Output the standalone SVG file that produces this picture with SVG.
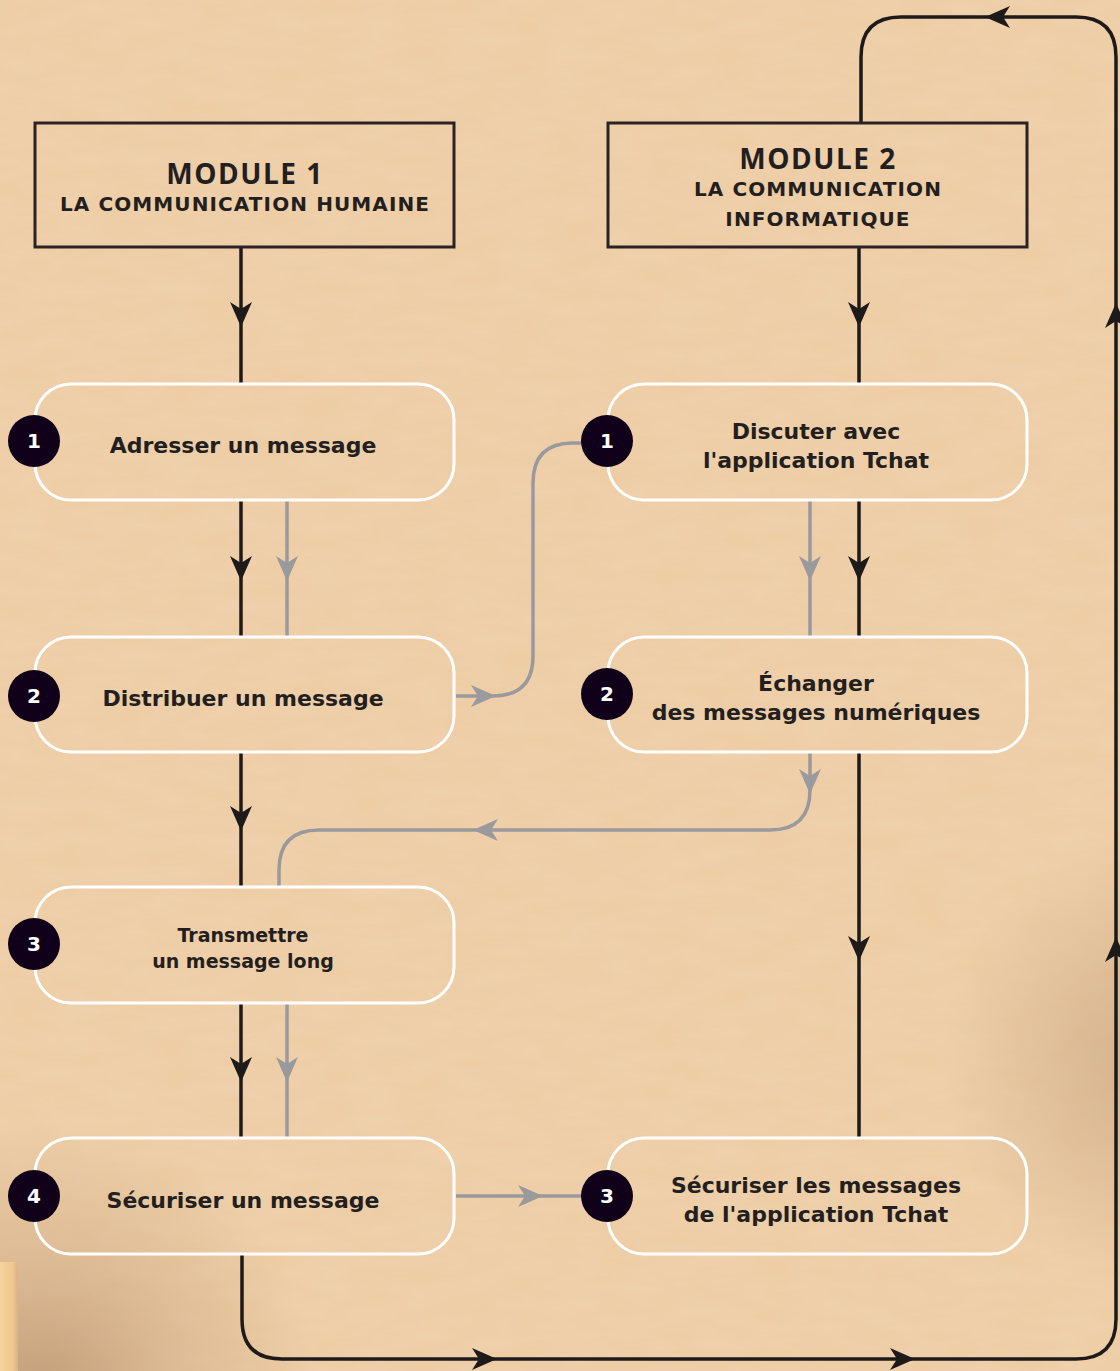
<svg xmlns="http://www.w3.org/2000/svg" width="1120" height="1371" viewBox="0 0 1120 1371">
<defs>
<style>
.bg{fill:#EECDA5}
.mod{fill:none;stroke:#2a2323;stroke-width:3}
.node{fill:none;stroke:#ffffff;stroke-width:3}
.num{fill:#10001a}
.numt{fill:#ffffff;font-family:"DejaVu Sans","Open Sans",sans-serif;font-weight:700;font-size:20px;text-anchor:middle}
.t{fill:#231f20;font-family:"DejaVu Sans","Open Sans",sans-serif;font-weight:700;font-size:22px;text-anchor:middle}
.ts{fill:#231f20;font-family:"DejaVu Sans","Open Sans",sans-serif;font-weight:700;font-size:19px;text-anchor:middle}
.mt{fill:#231f20;font-family:"Open Sans","DejaVu Sans",sans-serif;font-weight:700;font-size:28px;text-anchor:middle;letter-spacing:1.5px}
.ms{fill:#231f20;font-family:"DejaVu Sans","Open Sans",sans-serif;font-weight:700;font-size:20px;text-anchor:middle;letter-spacing:1.1px}
.bl{fill:none;stroke:#1e1a1a;stroke-width:3.5}
.gr{fill:none;stroke:#9a9a9c;stroke-width:3.5}
.ahb{fill:#1e1a1a}
.ahg{fill:#9a9a9c}
</style>
<path id="ah" d="M0,0 L-25,-11 L-18,0 L-25,11 Z"/>
<radialGradient id="shBL" gradientUnits="userSpaceOnUse" cx="40" cy="1400" r="280">
<stop offset="0" stop-color="#b08a66" stop-opacity="0.75"/>
<stop offset="0.55" stop-color="#c29c76" stop-opacity="0.35"/>
<stop offset="1" stop-color="#c29c76" stop-opacity="0"/>
</radialGradient>
<radialGradient id="shR" gradientUnits="userSpaceOnUse" cx="1170" cy="1060" r="230">
<stop offset="0" stop-color="#b08c6a" stop-opacity="0.5"/>
<stop offset="1" stop-color="#b8936f" stop-opacity="0"/>
</radialGradient>
<filter id="noise" x="0" y="0" width="100%" height="100%">
<feTurbulence type="fractalNoise" baseFrequency="0.02 0.06" numOctaves="3" seed="4"/>
<feColorMatrix type="matrix" values="0 0 0 0 0.85  0 0 0 0 0.72  0 0 0 0 0.55  0 0 0 0.35 -0.08"/>
</filter>
<linearGradient id="pencil" x1="0" x2="1" y1="0" y2="0">
<stop offset="0" stop-color="#f6d39e"/>
<stop offset="0.7" stop-color="#efc78f"/>
<stop offset="1" stop-color="#d9b287"/>
</linearGradient>
</defs>

<rect class="bg" x="0" y="0" width="1120" height="1371"/>
<rect x="0" y="0" width="1120" height="1371" filter="url(#noise)"/>
<rect x="0" y="0" width="1120" height="1371" fill="url(#shBL)"/>
<rect x="0" y="0" width="1120" height="1371" fill="url(#shR)"/>
<path d="M0,1262 H14 Q18,1262 18,1268 V1371 H0 Z" fill="url(#pencil)"/>

<g id="connectors">
<path class="bl" d="M241,247 V384"/>
<path class="bl" d="M241,500 V637"/>
<path class="bl" d="M241,752 V887"/>
<path class="bl" d="M241,1003 V1138"/>
<path class="bl" d="M859,247 V384"/>
<path class="bl" d="M859,500 V637"/>
<path class="bl" d="M859,752 V1138"/>
<path class="bl" d="M242,1254 V1319 Q242,1359 282,1359 H1076 Q1116,1359 1116,1319 V57 Q1116,17 1076,17 H901 Q861,17 861,57 V123"/>
<path class="gr" d="M287,500 V637"/>
<path class="gr" d="M287,1003 V1138"/>
<path class="gr" d="M810,500 V637"/>
<path class="gr" d="M810,752 V790 Q810,830 770,830 H319 Q279,830 279,870 V887"/>
<path class="gr" d="M456,696 H493 Q533,696 533,656 V483 Q533,443 573,443 H585"/>
<path class="gr" d="M456,1196 H585"/>
<use href="#ah" class="ahb" transform="translate(241,327) rotate(90)"/>
<use href="#ah" class="ahb" transform="translate(241,581) rotate(90)"/>
<use href="#ah" class="ahb" transform="translate(241,831) rotate(90)"/>
<use href="#ah" class="ahb" transform="translate(241,1082) rotate(90)"/>
<use href="#ah" class="ahb" transform="translate(859,327) rotate(90)"/>
<use href="#ah" class="ahb" transform="translate(859,581) rotate(90)"/>
<use href="#ah" class="ahb" transform="translate(859,961) rotate(90)"/>
<use href="#ah" class="ahb" transform="translate(497,1359)"/>
<use href="#ah" class="ahb" transform="translate(915,1359)"/>
<use href="#ah" class="ahb" transform="translate(1116,303) rotate(-90)"/>
<use href="#ah" class="ahb" transform="translate(1116,937) rotate(-90)"/>
<use href="#ah" class="ahb" transform="translate(985,17) rotate(180)"/>
<use href="#ah" class="ahg" transform="translate(287,581) rotate(90)"/>
<use href="#ah" class="ahg" transform="translate(287,1082) rotate(90)"/>
<use href="#ah" class="ahg" transform="translate(810,581) rotate(90)"/>
<use href="#ah" class="ahg" transform="translate(810,794) rotate(90)"/>
<use href="#ah" class="ahg" transform="translate(473,830) rotate(180)"/>
<use href="#ah" class="ahg" transform="translate(496,696)"/>
<use href="#ah" class="ahg" transform="translate(543,1196)"/>
</g>

<g id="module1">
<rect class="mod" x="35" y="123" width="419" height="124"/>
<text class="mt" x="245" y="184">MODULE 1</text>
<text class="ms" x="245" y="211">LA COMMUNICATION HUMAINE</text>
</g>
<g id="module2">
<rect class="mod" x="608" y="123" width="419" height="124"/>
<text class="mt" x="818" y="169">MODULE 2</text>
<text class="ms" x="818" y="196">LA COMMUNICATION</text>
<text class="ms" x="818" y="226">INFORMATIQUE</text>
</g>

<g id="m1-step1">
<rect class="node" x="35" y="384" width="419" height="116" rx="36"/>
<circle class="num" cx="34" cy="441" r="26"/>
<text class="numt" x="34" y="448">1</text>
<text class="t" x="243" y="453">Adresser un message</text>
</g>
<g id="m1-step2">
<rect class="node" x="35" y="637" width="419" height="115" rx="36"/>
<circle class="num" cx="34" cy="696" r="26"/>
<text class="numt" x="34" y="703">2</text>
<text class="t" x="243" y="706">Distribuer un message</text>
</g>
<g id="m1-step3">
<rect class="node" x="35" y="887" width="419" height="116" rx="36"/>
<circle class="num" cx="34" cy="944" r="26"/>
<text class="numt" x="34" y="951">3</text>
<text class="ts" x="243" y="942">Transmettre</text>
<text class="ts" x="243" y="968">un message long</text>
</g>
<g id="m1-step4">
<rect class="node" x="35" y="1138" width="419" height="116" rx="36"/>
<circle class="num" cx="34" cy="1196" r="26"/>
<text class="numt" x="34" y="1203">4</text>
<text class="t" x="243" y="1208">Sécuriser un message</text>
</g>

<g id="m2-step1">
<rect class="node" x="608" y="384" width="419" height="116" rx="36"/>
<circle class="num" cx="607" cy="441" r="26"/>
<text class="numt" x="607" y="448">1</text>
<text class="t" x="816" y="439">Discuter avec</text>
<text class="t" x="816" y="468">l'application Tchat</text>
</g>
<g id="m2-step2">
<rect class="node" x="608" y="637" width="419" height="115" rx="36"/>
<circle class="num" cx="607" cy="694" r="26"/>
<text class="numt" x="607" y="701">2</text>
<text class="t" x="816" y="691">Échanger</text>
<text class="t" x="816" y="720">des messages numériques</text>
</g>
<g id="m2-step3">
<rect class="node" x="608" y="1138" width="419" height="116" rx="36"/>
<circle class="num" cx="607" cy="1196" r="26"/>
<text class="numt" x="607" y="1203">3</text>
<text class="t" x="816" y="1193">Sécuriser les messages</text>
<text class="t" x="816" y="1222">de l'application Tchat</text>
</g>
</svg>
